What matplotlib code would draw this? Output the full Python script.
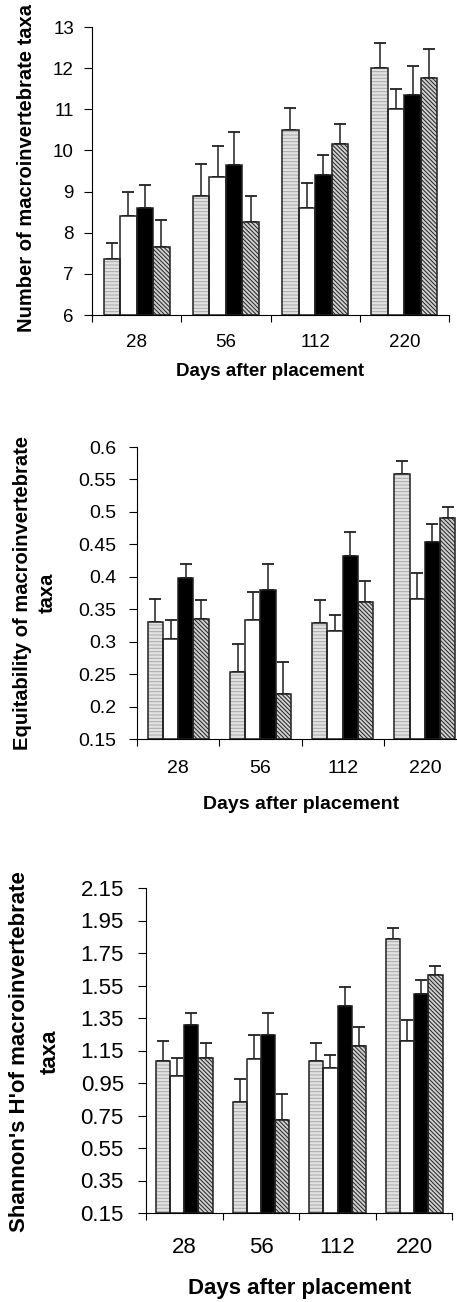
import numpy as np
import matplotlib
matplotlib.use("Agg")
import matplotlib.pyplot as plt

plt.rcParams['font.family'] = ['Liberation Sans', 'DejaVu Sans']
plt.rcParams['hatch.linewidth'] = 0.7

days = ['28', '56', '112', '220']
treatments = ['light', 'white', 'black', 'hatched']

# panel 1: number of taxa
taxa_mean = {
    'light': [7.35, 8.9, 10.5, 12.0],
    'white': [8.4, 9.35, 8.6, 11.0],
    'black': [8.6, 9.65, 9.4, 11.35],
    'hatched': [7.65, 8.25, 10.15, 11.75],
}
taxa_err = {
    'light': [0.39, 0.76, 0.52, 0.62],
    'white': [0.58, 0.75, 0.62, 0.49],
    'black': [0.55, 0.80, 0.48, 0.71],
    'hatched': [0.66, 0.65, 0.50, 0.71],
}

# panel 2: equitability
equit_mean = {
    'light': [0.331, 0.253, 0.328, 0.559],
    'white': [0.304, 0.333, 0.316, 0.366],
    'black': [0.398, 0.379, 0.432, 0.454],
    'hatched': [0.335, 0.220, 0.361, 0.491],
}
equit_err = {
    'light': [0.035, 0.044, 0.036, 0.019],
    'white': [0.030, 0.044, 0.025, 0.040],
    'black': [0.021, 0.040, 0.037, 0.027],
    'hatched': [0.029, 0.048, 0.032, 0.016],
}

# panel 3: Shannon H'
shannon_mean = {
    'light': [1.085, 0.835, 1.085, 1.838],
    'white': [0.991, 1.096, 1.040, 1.206],
    'black': [1.309, 1.245, 1.422, 1.498],
    'hatched': [1.104, 0.724, 1.178, 1.615],
}
shannon_err = {
    'light': [0.121, 0.140, 0.113, 0.064],
    'white': [0.113, 0.147, 0.082, 0.130],
    'black': [0.074, 0.138, 0.119, 0.088],
    'hatched': [0.094, 0.156, 0.119, 0.055],
}

styles = {
    'light': dict(facecolor='#e2e2e2', hatch='-----', hatchcolor='#a8a8a8'),
    'white': dict(facecolor='white', hatch=None, hatchcolor='white'),
    'black': dict(facecolor='black', hatch=None, hatchcolor='black'),
    'hatched': dict(facecolor='#d0d0d0', hatch='\\' * 8, hatchcolor='#202020'),
}

W, H = 457, 1302
fig = plt.figure(figsize=(W / 100, H / 100), dpi=100)


def px_axes(left, right, top, bottom):
    return fig.add_axes([left / W, 1 - bottom / H, (right - left) / W, (bottom - top) / H])


def panel(ax, means, errs, ymin, ymax, step, fmt, fs, lfs, ypad, xpad, labelpad):
    width = 0.185
    x = np.arange(len(days)) + 0.5
    for i, t in enumerate(treatments):
        pos = x + (i - 1.5) * width
        m = np.array(means[t])
        st = styles[t]
        ax.bar(pos, m - ymin, width, bottom=ymin, color=st['facecolor'],
               hatch=st['hatch'], edgecolor=st['hatchcolor'], linewidth=0, zorder=2)
        ax.bar(pos, m - ymin, width, bottom=ymin, fill=False,
               edgecolor='#202020', linewidth=1.1, zorder=3)
        ax.errorbar(pos, m, yerr=[np.zeros(len(m)), errs[t]], fmt='none',
                    ecolor='#202020', elinewidth=1.1, capsize=4.3, capthick=1.3, zorder=1)
    ax.set_xlim(0, len(days))
    ax.set_ylim(ymin, ymax)
    yt = np.arange(ymin, ymax + step / 2, step)
    ax.set_yticks(yt)
    ax.set_yticklabels([fmt(v) for v in yt], fontsize=fs)
    ax.set_xticks(x)
    ax.set_xticklabels(days, fontsize=fs)
    ax.set_xticks(np.arange(len(days) + 1), minor=True)
    ax.tick_params(axis='x', which='major', length=0, pad=xpad)
    ax.tick_params(axis='x', which='minor', length=5, width=0.8, direction='out')
    ax.tick_params(axis='y', length=6, width=0.8, direction='out', pad=ypad)
    for s in ['top', 'right']:
        ax.spines[s].set_visible(False)
    for s in ['left', 'bottom']:
        ax.spines[s].set_linewidth(0.8)
    ax.set_xlabel('Days after placement', fontsize=lfs, fontweight='bold',
                  labelpad=labelpad)


ax1 = px_axes(92, 449, 27, 315)
panel(ax1, taxa_mean, taxa_err, 6, 13, 1, lambda v: '%d' % round(v), 13.5, 13.5, 7, 14, 8)
fig.text(27 / W, 1 - 168 / H, 'Number of macroinvertebrate taxa', rotation=90,
         ha='center', va='center', fontsize=14.5, fontweight='bold')

ax2 = px_axes(137, 466, 447, 739)
panel(ax2, equit_mean, equit_err, 0.15, 0.6, 0.05, lambda v: '%g' % round(v, 2), 14, 14, 9, 15, 14)
fig.text(35 / W, 1 - 593 / H, 'Equitability of macroinvertebrate\ntaxa', rotation=90,
         ha='center', va='center', multialignment='center', fontsize=14.5,
         fontweight='bold', linespacing=1.4)

ax3 = px_axes(146, 452.5, 888, 1213)
panel(ax3, shannon_mean, shannon_err, 0.15, 2.15, 0.2, lambda v: '%.2f' % v, 16, 16, 10, 17, 15)
fig.text(35 / W, 1 - 1052 / H, "Shannon's H'of macroinvertebrate\ntaxa", rotation=90,
         ha='center', va='center', multialignment='center', fontsize=16,
         fontweight='bold', linespacing=1.6)

fig.savefig('out.png', dpi=100)
